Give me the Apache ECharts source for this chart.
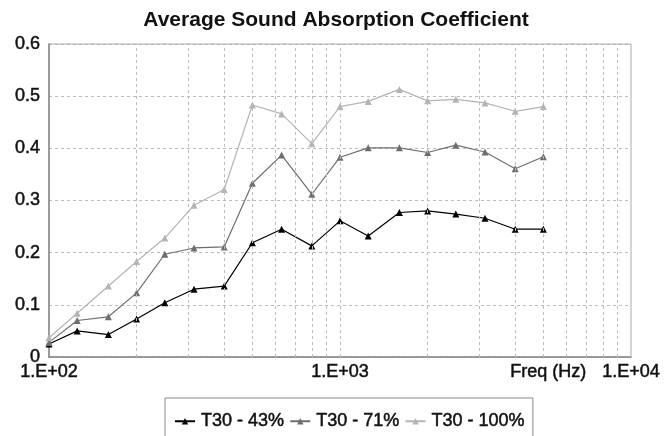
<!DOCTYPE html>
<html>
<head>
<meta charset="utf-8">
<script src="https://cdn.jsdelivr.net/npm/echarts@6/dist/echarts.min.js"></script>
<style>
  html, body { margin: 0; padding: 0; background: #fff; }
  #chart { width: 672px; height: 436px; }
</style>
</head>
<body>
<div id="chart"></div>
<script>
// third-octave band centre frequencies (Hz)
const freqs = [100, 125, 160, 200, 250, 315, 400, 500, 630, 800, 1000, 1250, 1600, 2000, 2500, 3150, 4000, 5000]
// absorption coefficient per series
const t30_43 = [0.025, 0.050, 0.043, 0.073, 0.104, 0.130, 0.136, 0.219, 0.245, 0.213, 0.261, 0.232, 0.277, 0.280, 0.274, 0.266, 0.245, 0.245]
const t30_71 = [0.028, 0.070, 0.077, 0.123, 0.197, 0.209, 0.211, 0.333, 0.387, 0.312, 0.383, 0.401, 0.401, 0.392, 0.406, 0.393, 0.361, 0.384]
const t30_100 = [0.037, 0.084, 0.136, 0.183, 0.228, 0.291, 0.321, 0.483, 0.466, 0.409, 0.480, 0.490, 0.513, 0.491, 0.494, 0.487, 0.471, 0.480]
const seriesNames = ['T30 - 43%', 'T30 - 71%', 'T30 - 100%']
// minor log gridlines
const gridFreqs = [200, 300, 400, 500, 600, 700, 800, 900, 1000, 2000, 3000, 4000, 5000, 6000, 7000, 8000, 9000]

const pair = arr => freqs.map((f, i) => [f, arr[i]])

const myChart = echarts.init(document.getElementById('chart'))
const font = 'Liberation Sans, Arial, sans-serif'
// regular text slightly thickened, like the original
const txt = { fontFamily: font, fontSize: 18, color: '#111', textBorderColor: '#111', textBorderWidth: 0.5 }

const mkSeries = (name, data, color, extra) => Object.assign({
  name: name,
  type: 'line',
  data: pair(data),
  symbol: 'triangle',
  symbolSize: 7,
  showSymbol: true,
  lineStyle: { color: color, width: 1.2 },
  itemStyle: { color: color },
  animation: false,
  z: 3
}, extra || {})

const option = {
  animation: false,
  title: {
    text: 'Average Sound Absorption Coefficient',
    left: 'center',
    top: 5,
    textStyle: { fontFamily: font, fontSize: 21, fontWeight: 'bold', color: '#111' }
  },
  grid: { left: 49, right: 41, top: 44, bottom: 79 },
  xAxis: {
    type: 'log',
    logBase: 10,
    min: 100,
    max: 10000,
    axisLine: { show: true, lineStyle: { color: '#666', width: 1.5 } },
    axisTick: { show: false },
    axisLabel: Object.assign({}, txt, {
      margin: 6,
      formatter: v => '1.E+0' + Math.round(Math.log10(v))
    }),
    splitLine: { show: false }
  },
  yAxis: {
    type: 'value',
    min: 0,
    max: 0.6,
    interval: 0.1,
    axisLine: { show: true, lineStyle: { color: '#666', width: 1.5 } },
    axisTick: { show: false },
    axisLabel: Object.assign({}, txt, { margin: 9 }),
    splitLine: { show: true, lineStyle: { color: '#bbb', type: [3, 3], width: 1 } }
  },
  legend: {
    left: 165,
    top: 398,
    data: seriesNames,
    itemWidth: 20,
    itemHeight: 8,
    itemGap: 5,
    padding: [14, 8, 20, 9],
    borderColor: '#888',
    borderWidth: 1,
    textStyle: Object.assign({}, txt, { padding: [0, 0, 0, 1] })
  },
  graphic: [
    {
      type: 'rect',
      shape: { x: 49, y: 44, width: 582, height: 313 },
      style: { fill: 'none', stroke: '#aaa', lineWidth: 1 },
      silent: true, z: 1
    },
    {
      type: 'text',
      left: 510,
      top: 363,
      style: { text: 'Freq (Hz)', font: '18px ' + font, fill: '#111', stroke: '#111', lineWidth: 0.5 }
    }
  ],
  series: [
    mkSeries(seriesNames[0], t30_43, '#000', {
      markLine: {
        silent: true,
        symbol: 'none',
        label: { show: false },
        lineStyle: { color: '#bbb', type: [3, 3], width: 1 },
        data: gridFreqs.map(f => ({ xAxis: f }))
      }
    }),
    mkSeries(seriesNames[1], t30_71, '#6e6e6e'),
    mkSeries(seriesNames[2], t30_100, '#b4b4b4')
  ]
}
myChart.setOption(option)
</script>
</body>
</html>
